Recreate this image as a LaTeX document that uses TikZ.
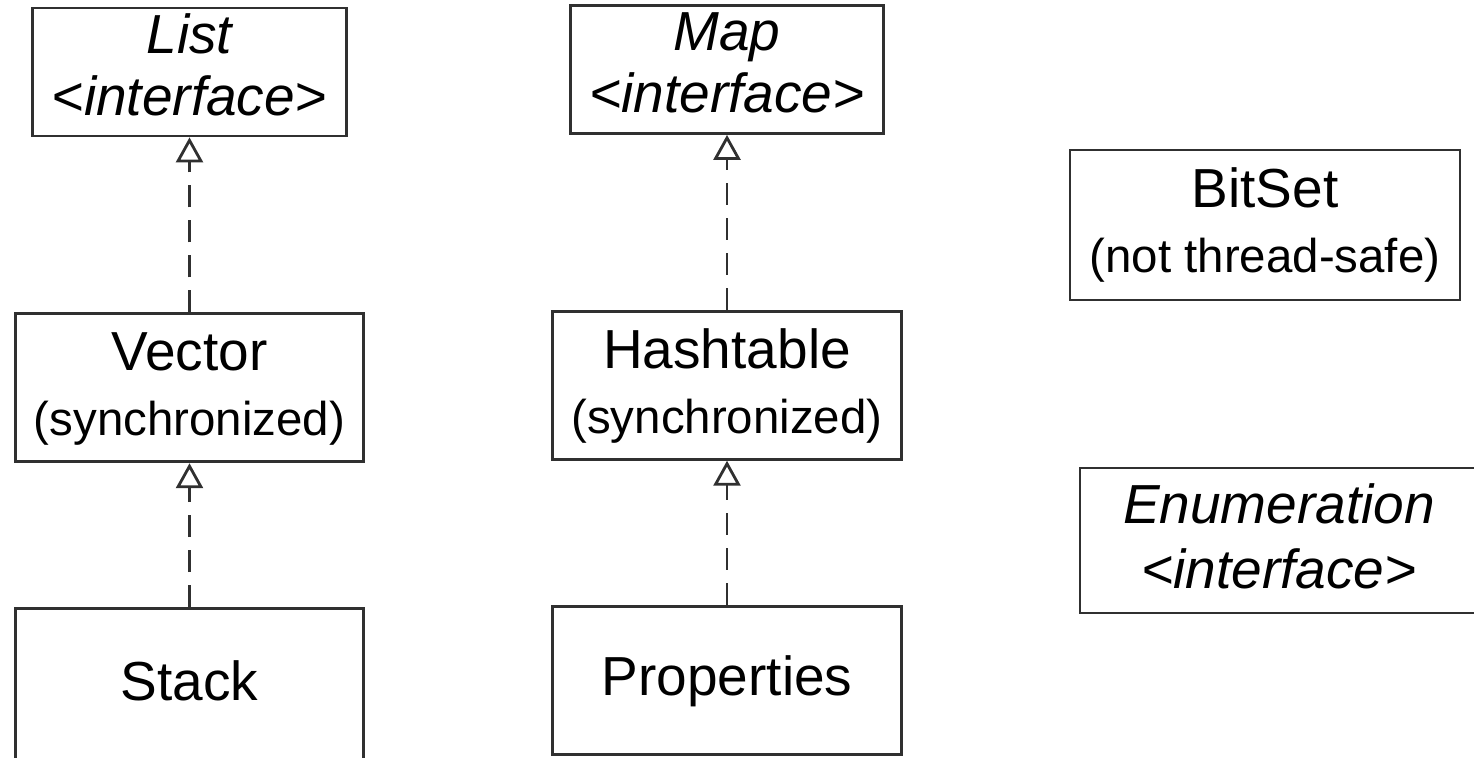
\documentclass[tikz,border=0pt]{standalone}
\usepackage{fontspec}
\setmainfont{Liberation Sans}
\usepackage{xcolor}
\definecolor{lineDark}{HTML}{303030}
\usepackage{tikz}
\usetikzlibrary{positioning,arrows.meta}
\newcommand{\subline}[1]{{\fontsize{27}{37}\selectfont #1}}
\tikzset{%
  classBox/.style={%
    rectangle,
    draw=lineDark,
    line width=1.6pt,
    fill=white,
    minimum width=6.97cm,
    minimum height=2.96cm,
    inner sep=0pt,
    align=center,
    text height=59.4pt,
    text depth=5pt,
    font=\fontsize{31.3}{37}\selectfont
  },
  plainBox/.style={%
    classBox,
    text height=22.4pt
  },
  ifaceBox/.style={%
    classBox,
    minimum width=6.27cm,
    minimum height=2.56cm,
    text height=57.7pt,
    text depth=8.5pt,
    font=\fontsize{31.3}{35.3}\selectfont\itshape
  },
  realizeLine/.style={%
    -{Triangle[open,length=0.5cm,width=0.54cm]},
    line width=1.6pt,
    dash pattern=on 0.44cm off 0.26cm,
    color=lineDark
  }
}
\begin{document}
\begin{tikzpicture}
  \useasboundingbox (0,0) rectangle (29.48,-15.14);
  \clip (0,0) rectangle (29.48,-15.14);
  \node[ifaceBox] (list) at (3.79,-1.44) {List\\<interface>};
  \node[ifaceBox] (map) at (14.54,-1.39) {Map\\<interface>};
  \node[classBox, below=3.5cm of list] (vector) {Vector\\\subline{(synchronized)}};
  \node[classBox, below=3.5cm of map] (hashtable) {Hashtable\\\subline{(synchronized)}};
  \node[plainBox, below=2.88cm of vector, minimum height=3.12cm, text depth=7pt] (stack) {Stack};
  \node[plainBox, below=2.88cm of hashtable] (props) {Properties};
  \node[classBox, minimum width=7.8cm, minimum height=3cm] (bitset) at (25.3,-4.5) {BitSet\\\subline{(not thread-safe)}};
  \node[classBox, minimum width=7.96cm, minimum height=2.9cm, font=\fontsize{31.3}{37}\selectfont\itshape] (enumeration) at (25.58,-10.81) {Enumeration\\<interface>};

  \draw[realizeLine] (vector) -- (list);
  \draw[realizeLine] (stack) -- (vector);
  \draw[realizeLine] (hashtable) -- (map);
  \draw[realizeLine] (props) -- (hashtable);
\end{tikzpicture}
\end{document}
